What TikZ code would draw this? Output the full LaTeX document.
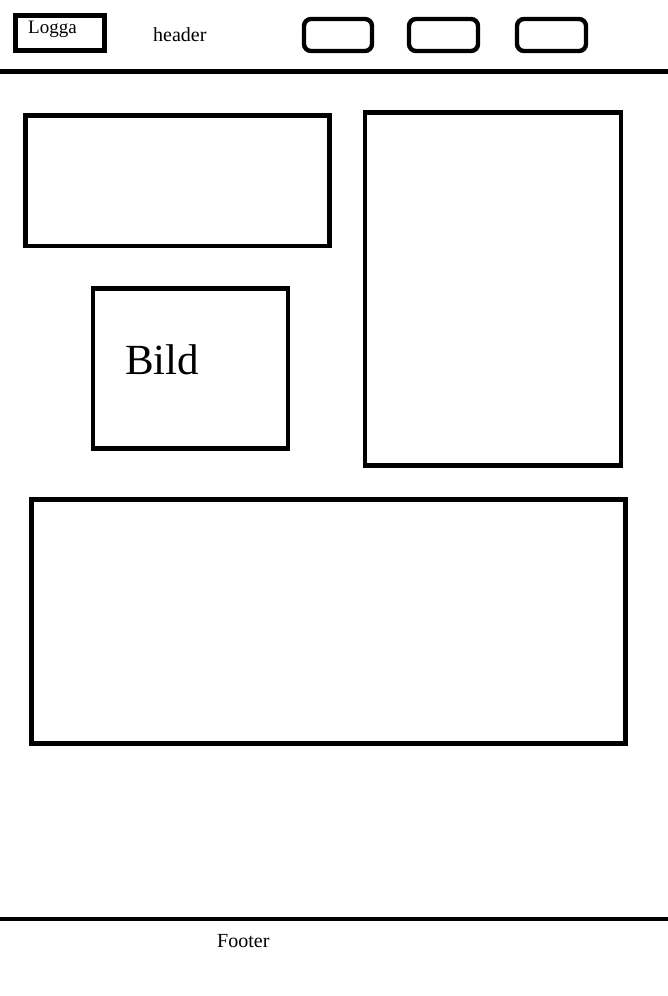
\documentclass[tikz,border=0pt]{standalone}
\usepackage{fontspec}
\setmainfont{Liberation Serif}
\begin{document}
\begin{tikzpicture}[x=1pt,y=-1pt,
  frame/.style={draw=black,line width=4.6pt},
  navbtn/.style={draw=black,line width=4.4pt,rounded corners=7pt},
  rule/.style={draw=black,line width=4.8pt},
  lbl/.style={inner sep=0pt,anchor=base west}]
\useasboundingbox[fill=white] (0,0) rectangle (668,996);
% header
\draw[frame] (15.5,15.5) rectangle (104.5,50.5);
\node[lbl,font=\fontsize{19}{22}\selectfont] (logga) at (28,33) {Logga};
\node[lbl,font=\fontsize{20}{24}\selectfont] (header) at (153,41) {header};
\draw[navbtn] (304,19) rectangle (372,51);
\draw[navbtn] (409,19) rectangle (478,51);
\draw[navbtn] (517,19) rectangle (586,51);
\draw[rule] (0,71.5) -- (668,71.5);
% content
\draw[frame] (25.2,115.2) rectangle (329.5,246);
\draw[frame] (365,112.5) rectangle (620.8,465.2);
\draw[frame] (93,288.5) rectangle (288,448.5);
\node[lbl,font=\fontsize{43}{50}\selectfont] (bild) at (125,374) {Bild};
\draw[frame] (31.5,499.2) rectangle (625.2,743.5);
% footer
\draw[rule] (0,919) -- (668,919);
\node[lbl,font=\fontsize{20}{24}\selectfont] (footer) at (217,947) {Footer};
\end{tikzpicture}
\end{document}
